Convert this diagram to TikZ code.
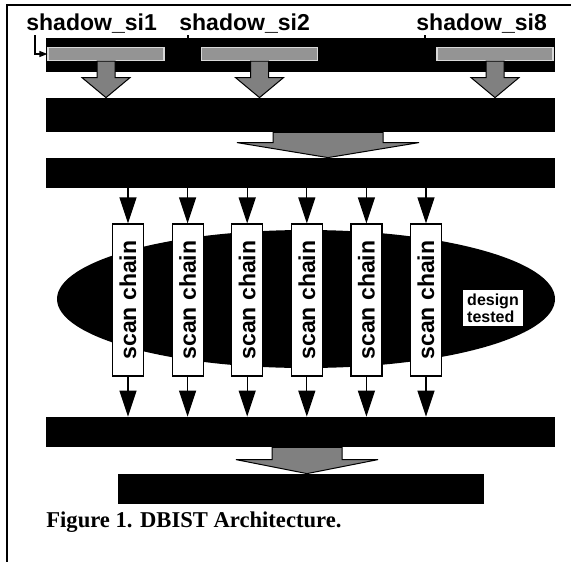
\documentclass[tikz,border=0pt]{standalone}
\usepackage{fontspec}
\usepackage{graphicx}
\newfontfamily\labelfont{Liberation Sans}
\newfontfamily\capfont{Liberation Serif}
\usetikzlibrary{calc}
\usetikzlibrary{arrows.meta,shapes.geometric,positioning}

\begin{document}
\begin{tikzpicture}[x=0.5pt, y=-0.5pt,
    bar/.style={draw=none, fill=black, rectangle, inner sep=0pt, minimum width=254.5pt},
    shadowreg/.style={fill=black!42, draw=black!15, line width=0.6pt, inner sep=0pt, minimum width=58pt, minimum height=6.5pt},
    siglabel/.style={font=\labelfont\bfseries\fontsize{11.5}{13}\selectfont, inner sep=1pt, anchor=base west},
    fatarrow/.style={fill=black!50, draw=black, line width=0.5pt, line join=miter},
    chain/.style={draw=black, fill=white, line width=0.6pt, inner sep=0pt, minimum width=15.5pt, minimum height=76pt, font=\labelfont\bfseries\fontsize{11.5}{13}\selectfont},
    chainarrow/.style={line width=0.6pt, -{Triangle[length=13pt, width=8.5pt]}}
  ]

        \useasboundingbox (0,0) rectangle (571,562);
        \fill[white] (0,0) rectangle (571,562);
        \draw[line width=0.8pt] (571,5) -- (7,5) -- (7,562);

        % Black bars, top to bottom
        \node[bar, minimum height=17pt] (sibar) at (300.5,55) {};
        \node[bar, minimum height=17pt] (prpg) at (300.5,115) {};
        \node[bar, minimum height=15pt] (spreader) at (300.5,173) {};
        \node[bar, minimum height=15pt] (compactor) at (300.5,432) {};
        \node[bar, minimum height=15pt, minimum width=183pt] (misr) at (301,489) {};

        % Shadow registers and their labels
        \foreach \i/\xc/\xl in {1/106/24, 2/259.5/177, 8/495/414} {
            \node[shadowreg] (shadow\i) at (\xc,54) {};
            \node[siglabel] (lab\i) at (\xl,30) {shadow\_si\i};
            \draw[fatarrow] ($(shadow\i.south)+(-9,0)$) -- ($(shadow\i.south |- prpg.north)+(-9,-20)$) -- ++(-15,0) -- (shadow\i.south |- prpg.north) -- ++(24,-20) -- ++(-15,0) -- ($(shadow\i.south)+(9,0)$) -- cycle;
        }
        \draw[line width=0.6pt, -{Triangle[length=4pt, width=3pt]}] ($(lab1.south west)+(11,0)$) |- (shadow1.west);
        \foreach \i in {2,8} {
            \path ($(lab\i.south west)+(11,0)$) coordinate (tick\i);
            \draw[line width=0.6pt] (tick\i) -- (tick\i |- sibar.north);
        }

        % Wide arrows between the bars
        \coordinate (fanout) at ($(prpg.south)+(27.5,0)$);
        \draw[fatarrow] ($(fanout)+(-55,0)$) -- ($(fanout |- spreader.north)+(-55,-15)$) -- ++(-36,0) -- (fanout |- spreader.north) -- ++(91,-15) -- ++(-36,0) -- ($(fanout)+(55,0)$) -- cycle;
        \coordinate (fanin) at ($(compactor.south)+(6.5,0)$);
        \draw[fatarrow] ($(fanin)+(-35,0)$) -- ($(fanin |- misr.north)+(-35,-14)$) -- ++(-36,0) -- (fanin |- misr.north) -- ++(71,-14) -- ++(-36,0) -- ($(fanin)+(35,0)$) -- cycle;

        % Design under test with its scan chains
        \node[ellipse, fill=black, inner sep=0pt, minimum width=249pt, minimum height=69pt] (dut) at (306,299) {};
        \node[fill=white, inner sep=2pt, align=left, font=\labelfont\bfseries\fontsize{8}{8.5}\selectfont] (dutlabel) at (493,308) {design\\tested};
        \foreach \i in {1,...,6} {
            \node[chain] (chain\i) at ({128+59.6*(\i-1)},300) {\rotatebox{90}{scan chain}};
            \draw[chainarrow] (chain\i |- spreader.south) -- (chain\i.north);
            \draw[chainarrow] (chain\i.south) -- (chain\i |- compactor.north);
        }

        \node[anchor=base west, inner sep=0pt, font=\capfont\bfseries\fontsize{11.3}{13}\selectfont] (caption) at (46,527) {Figure 1. DBIST Architecture.};
    \end{tikzpicture}
\end{document}
